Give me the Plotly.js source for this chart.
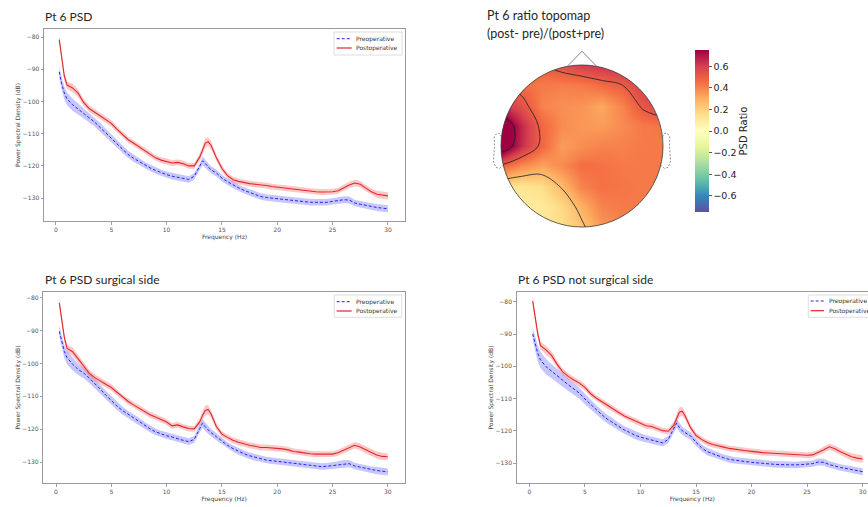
<!DOCTYPE html>
<html><head><meta charset="utf-8">
<script src="https://cdn.plot.ly/plotly-3.0.1.min.js"></script>
<style>html,body{margin:0;padding:0;background:#fff;}#chart{width:868px;height:507px;}</style>
</head><body><div id="chart"></div>
<script>
// ---------------- data ----------------
const freqHz = [0.3,0.5,0.75,1,1.5,2,2.5,3,3.5,4,4.5,5,5.5,6,6.5,7,7.5,8,8.5,9,9.5,10,10.5,11,11.5,12,12.5,13,13.25,13.5,13.75,14,14.5,15,15.5,16,16.5,17,17.5,18,18.5,19,19.5,20,20.5,21,21.5,22,22.5,23,23.5,24,24.5,25,25.5,26,26.5,27,27.5,28,28.5,29,29.5,30];

// Pt 6 PSD (all channels)
const allPre = [-90.8,-94.3,-97.3,-99.2,-101,-102.3,-103.6,-105,-106.4,-108.1,
 -109.8,-111.6,-113.3,-114.8,-116.4,-117.6,-118.6,-119.7,-120.6,-121.4,
 -122.1,-122.7,-123.2,-123.5,-123.8,-124.2,-123.2,-120.3,-118.4,-119.3,
 -120.4,-121.2,-122.2,-123.8,-124.9,-125.9,-126.8,-127.6,-128.2,-129,
 -129.5,-129.8,-130,-130.2,-130.4,-130.6,-130.8,-131,-131.1,-131.3,
 -131.3,-131.3,-131.3,-131,-130.7,-130.5,-130.6,-131.5,-131.9,-132.3,
 -132.6,-132.9,-133.1,-133.3];
const allPost = [-80.8,-86,-92,-94.9,-95.8,-97.4,-100.3,-102.2,-103.4,-104.4,
 -105.6,-106.8,-108.6,-110.3,-111.8,-112.9,-114,-115.1,-116.3,-117.5,
 -118.2,-118.7,-119.1,-118.9,-119.3,-120,-120,-117.2,-114.8,-112.9,
 -112.5,-113.5,-117.5,-120.8,-123,-124.3,-124.8,-125.2,-125.5,-125.7,
 -125.8,-126.1,-126.4,-126.6,-126.8,-127,-127.3,-127.6,-127.7,-127.9,
 -128,-128.1,-128.1,-128,-127.7,-126.8,-125.9,-125.3,-125.7,-126.9,
 -128,-128.8,-129.1,-129.3];

// Pt 6 PSD surgical side
const surgPre = [-90.2,-93.3,-96.3,-98.2,-100.2,-101.8,-102.9,-104.4,-106,-107.8,
 -109.6,-111.3,-112.9,-114.3,-115.5,-116.5,-117.6,-118.8,-119.9,-120.8,
 -121.5,-122,-122.4,-123,-123.4,-123.8,-123.1,-119.8,-118.2,-119.3,
 -120.3,-121,-122.3,-123.6,-124.9,-125.9,-126.8,-127.5,-128.1,-128.6,
 -129,-129.4,-129.6,-129.8,-130,-130.3,-130.6,-130.7,-130.9,-131.1,
 -131.3,-131.4,-131.3,-131.1,-130.8,-130.5,-130.5,-131.2,-131.6,-132,
 -132.4,-132.6,-132.8,-133];
const surgPost = [-81.5,-86,-92,-95.4,-96.4,-98.6,-100.9,-102.9,-104.3,-105.4,
 -106.3,-107.3,-108.8,-110.3,-111.5,-112.6,-113.6,-114.6,-115.6,-116.3,
 -117,-117.8,-119,-118.7,-119.3,-119.8,-119.9,-117.8,-115.8,-114.3,
 -114,-115.2,-119.2,-121.5,-122.5,-123.4,-124,-124.5,-124.9,-125.2,
 -125.6,-125.6,-125.7,-125.9,-126,-126.3,-126.8,-127,-127.3,-127.5,
 -127.6,-127.6,-127.6,-127.6,-127.2,-126.4,-125.6,-124.9,-125.4,-126.2,
 -127.1,-127.9,-128.3,-128.4];

// Pt 6 PSD not surgical side
const nonSurgPre = [-90,-93,-95.9,-98,-100.1,-101.5,-102.8,-104.3,-105.7,-107.1,
 -108.3,-110.1,-111.8,-113.4,-114.9,-116.3,-117.4,-118.6,-119.6,-120.4,
 -121.3,-121.9,-122.4,-122.9,-123.3,-123.7,-122.6,-119.5,-117.6,-118.9,
 -119.9,-120.5,-121.5,-123.5,-125.2,-126.4,-127.1,-127.7,-128.3,-128.8,
 -129.1,-129.3,-129.5,-129.7,-129.9,-130.1,-130.2,-130.3,-130.4,-130.5,
 -130.5,-130.5,-130.4,-130.3,-130.1,-129.6,-129.7,-130.4,-130.9,-131.3,
 -131.6,-131.9,-132.3,-132.6];
const nonSurgPost = [-79.8,-84,-89.8,-93.6,-94.9,-96.6,-99.4,-101.7,-103.1,-104.2,
 -105.2,-106.5,-108.4,-109.8,-110.9,-112.2,-113.2,-114.3,-115.3,-116.1,
 -116.9,-117.7,-118.4,-118.6,-119.2,-119.9,-120.1,-118.2,-116.2,-114.2,
 -113.9,-115.2,-118.9,-121.4,-122.6,-123.6,-124.2,-124.7,-125,-125.4,
 -125.7,-125.9,-126.1,-126.3,-126.6,-126.7,-126.8,-126.9,-127,-127.2,
 -127.3,-127.5,-127.6,-127.5,-127.4,-126.7,-125.8,-124.9,-125.5,-126.4,
 -127.3,-128,-128.4,-128.7];

// spread (half-width of shaded band, dB)
const preSd = [1.6,1.8,2.0,2.0,1.9,1.7,1.6,1.5,1.4,1.4,
 1.3,1.3,1.2,1.2,1.1,1.1,1.1,1.0,1.0,1.0,
 1.0,1.0,1.0,1.0,1.0,1.0,1.0,1.1,1.3,1.3,
 1.2,1.1,1.1,1.0,1.0,1.0,1.0,1.0,1.0,1.0,
 1.0,1.0,1.0,1.0,1.0,1.0,1.0,1.0,1.0,1.0,
 1.0,1.0,1.0,1.0,1.0,1.1,1.1,1.0,1.0,1.0,
 1.0,1.1,1.1,1.1];
const postSd = [1.5,1.4,1.3,1.2,1.3,1.2,1.1,1.0,1.0,1.0,
 1.0,1.0,0.9,0.9,0.9,0.9,0.9,0.9,0.9,0.9,
 0.9,0.9,0.9,0.9,0.9,0.9,0.9,1.1,1.4,1.5,
 1.4,1.2,1.0,0.9,0.9,0.9,0.9,0.9,0.9,0.9,
 0.9,0.9,0.9,0.9,0.9,0.9,0.9,0.9,0.9,0.9,
 0.9,0.9,0.9,0.9,0.9,0.9,1.0,1.0,1.0,1.0,
 1.0,1.1,1.1,1.1];
const nonSurgPreSd = [2.0,2.3,2.5,2.5,2.4,2.2,2.1,2.0,1.9,1.8,
 1.7,1.6,1.5,1.4,1.4,1.3,1.3,1.2,1.2,1.2,
 1.2,1.2,1.1,1.1,1.1,1.1,1.1,1.2,1.4,1.4,
 1.3,1.2,1.2,1.1,1.1,1.1,1.0,1.0,1.0,1.0,
 1.0,1.0,1.0,1.0,1.0,1.0,1.0,1.0,1.0,1.0,
 1.0,1.0,1.0,1.0,1.0,1.1,1.1,1.0,1.0,1.0,
 1.0,1.1,1.1,1.1];

const freqTicks = [0,5,10,15,20,25,30];
const psdTicks = [-130,-120,-110,-100,-90,-80];
const seriesNames = ['Preoperative','Postoperative'];
const panelTitles = ['Pt 6 PSD','Pt 6 PSD surgical side','Pt 6 PSD not surgical side'];
const xTitleText = 'Frequency (Hz)';
const yTitleText = 'Power Spectral Density (dB)';

// topomap: ratio (post-pre)/(post+pre) sampled on a grid (head radius = 1)
const topoX = [-1,-0.75,-0.5,-0.25,0,0.25,0.5,0.75,1];
const topoY = [-1,-0.75,-0.5,-0.25,0,0.25,0.5,0.75,1];
const topoRatio = [
 [0.10,0.10,0.12,0.15,0.23,0.35,0.40,0.42,0.42],
 [0.10,0.10,0.10,0.17,0.29,0.40,0.42,0.42,0.42],
 [0.14,0.12,0.15,0.26,0.40,0.44,0.43,0.42,0.42],
 [0.48,0.38,0.32,0.38,0.45,0.44,0.42,0.42,0.42],
 [0.88,0.65,0.47,0.34,0.37,0.40,0.40,0.42,0.42],
 [0.90,0.66,0.47,0.38,0.35,0.34,0.38,0.42,0.43],
 [0.62,0.55,0.40,0.37,0.36,0.31,0.40,0.52,0.60],
 [0.50,0.45,0.42,0.41,0.42,0.46,0.50,0.60,0.62],
 [0.50,0.48,0.50,0.55,0.60,0.63,0.65,0.66,0.66]];
const cbTicks = [-0.6,-0.4,-0.2,0,0.2,0.4,0.6];
const topoTitle = ['Pt 6 ratio topomap','(post- pre)/(post+pre)'];
const cbTitle = 'PSD Ratio';

// ---------------- layout helpers ----------------
const W = 868, H = 507;
const fx = p => p / W;
const fy = p => 1 - p / H;
const FONT = 'DejaVu Sans';
const TITLEFONT = 'Lato';
const PRE_COLOR = '#2323f0', POST_COLOR = '#e3262b';
const PRE_FILL = 'rgba(40,40,255,0.26)', POST_FILL = 'rgba(245,40,40,0.26)';

const panels = [
 {xa:'x', ya:'y', pre:allPre, post:allPost, preS:preSd, postS:postSd,
  xdom:[fx(44), fx(405)], ydom:[fy(221), fy(29)], xr:[-1.08,31.54], yr:[-137.1,-77.5], mirror:true,
  title:[43, 16.5],
  leg:{box:[334,32,402,55], rows:[38.7,48], line:[336.7,351.7], text:355}},
 {xa:'x2', ya:'y2', pre:surgPre, post:surgPost, preS:preSd, postS:postSd,
  xdom:[fx(43.3), fx(405)], ydom:[fy(483), fy(292)], xr:[-1.15,31.56], yr:[-136.4,-78.2], mirror:true,
  title:[43, 279],
  leg:{box:[334.3,295,401.7,317.3], rows:[301.7,311], line:[336.7,351.7], text:355}},
 {xa:'x3', ya:'y3', pre:nonSurgPre, post:nonSurgPost, preS:nonSurgPreSd, postS:postSd,
  xdom:[fx(516.7), 1], ydom:[fy(483), fy(292)], xr:[-1.14,30.48], yr:[-136.1,-77.0], mirror:false,
  title:[515.7, 279],
  leg:{box:[808.3,295,900,317.3], rows:[301,310.7], line:[810.7,824], text:828.3}}
];

const traces = [];
const shapes = [];
const annotations = [];
const layout = {
 width:W, height:H, margin:{l:0,r:0,t:0,b:0,autoexpand:false},
 paper_bgcolor:'#ffffff', plot_bgcolor:'rgba(0,0,0,0)', showlegend:false,
 font:{family:FONT, color:'#444'}, hovermode:false
};

panels.forEach((p, k) => {
 const lo = (m, s) => m.map((v,i) => v - s[i]);
 const hi = (m, s) => m.map((v,i) => v + s[i]);
 const common = {x:freqHz, xaxis:p.xa, yaxis:p.ya, mode:'lines', hoverinfo:'skip', showlegend:false};
 traces.push(Object.assign({}, common, {y:lo(p.pre,p.preS), line:{width:0, color:PRE_FILL}}));
 traces.push(Object.assign({}, common, {y:hi(p.pre,p.preS), line:{width:0, color:PRE_FILL}, fill:'tonexty', fillcolor:PRE_FILL}));
 traces.push(Object.assign({}, common, {y:lo(p.post,p.postS), line:{width:0, color:POST_FILL}}));
 traces.push(Object.assign({}, common, {y:hi(p.post,p.postS), line:{width:0, color:POST_FILL}, fill:'tonexty', fillcolor:POST_FILL}));
 traces.push(Object.assign({}, common, {y:p.pre, name:seriesNames[0], line:{width:1, color:PRE_COLOR, dash:'3px,2px'}}));
 traces.push(Object.assign({}, common, {y:p.post, name:seriesNames[1], line:{width:1.1, color:POST_COLOR}}));

 const xk = p.xa === 'x' ? 'xaxis' : 'xaxis' + p.xa.slice(1);
 const yk = p.ya === 'y' ? 'yaxis' : 'yaxis' + p.ya.slice(1);
 layout[xk] = {domain:p.xdom, range:p.xr, anchor:p.ya, showline:true, mirror:true,
  linecolor:'#9a9a9a', linewidth:1, ticks:'outside', ticklen:2.5, tickwidth:0.8, tickcolor:'#8a8a8a',
  tickmode:'array', tickvals:freqTicks, tickfont:{family:FONT, size:6, color:'#555'},
  showgrid:false, zeroline:false, fixedrange:true, automargin:false,
  title:{text:xTitleText, font:{family:FONT, size:6, color:'#444'}, standoff:1}};
 layout[yk] = {domain:p.ydom, range:p.yr, anchor:p.xa, showline:true, mirror:p.mirror,
  linecolor:'#9a9a9a', linewidth:1, ticks:'outside', ticklen:2.5, tickwidth:0.8, tickcolor:'#8a8a8a',
  tickmode:'array', tickvals:psdTicks, tickfont:{family:FONT, size:6, color:'#555'},
  showgrid:false, zeroline:false, fixedrange:true, automargin:false,
  title:{text:yTitleText, font:{family:FONT, size:6, color:'#444'}, standoff:1}};

 annotations.push({xref:'paper', yref:'paper', x:fx(p.title[0]), y:fy(p.title[1]), xanchor:'left', yanchor:'middle',
  text:panelTitles[k], showarrow:false, font:{family:TITLEFONT, size:12, color:'#262626'}});

 // legend box
 const L = p.leg;
 shapes.push({type:'rect', xref:'paper', yref:'paper', x0:fx(L.box[0]), x1:fx(L.box[2]), y0:fy(L.box[3]), y1:fy(L.box[1]),
  line:{color:'#d6d6d6', width:0.8}, fillcolor:'rgba(255,255,255,0.85)', layer:'above'});
 shapes.push({type:'line', xref:'paper', yref:'paper', x0:fx(L.line[0]), x1:fx(L.line[1]), y0:fy(L.rows[0]), y1:fy(L.rows[0]),
  line:{color:PRE_COLOR, width:1, dash:'3px,2px'}, layer:'above'});
 shapes.push({type:'line', xref:'paper', yref:'paper', x0:fx(L.line[0]), x1:fx(L.line[1]), y0:fy(L.rows[1]), y1:fy(L.rows[1]),
  line:{color:POST_COLOR, width:1.2}, layer:'above'});
 seriesNames.forEach((n, j) => annotations.push({xref:'paper', yref:'paper', x:fx(L.text), y:fy(L.rows[j]),
  xanchor:'left', yanchor:'middle', text:n, showarrow:false, borderpad:0, font:{family:FONT, size:6, color:'#333'}}));
});

// ---------------- topomap ----------------
const spectralR = [[0,'#5e4fa2'],[0.1,'#3288bd'],[0.2,'#66c2a5'],[0.3,'#abdda4'],[0.4,'#e6f598'],
 [0.5,'#ffffbf'],[0.6,'#fee08b'],[0.7,'#fdae61'],[0.8,'#f46d43'],[0.9,'#d53e4f'],[1,'#9e0142']];

traces.push({type:'heatmap', x:topoX, y:topoY, z:topoRatio, xaxis:'x4', yaxis:'y4', zsmooth:'best',
 colorscale:spectralR, zmin:-0.75, zmax:0.75, hoverinfo:'skip',
 colorbar:{x:fx(695), xanchor:'left', y:fy(131), yanchor:'middle', len:162, lenmode:'pixels',
  thickness:14, thicknessmode:'pixels', xpad:0, ypad:0, outlinewidth:0,
  ticks:'outside', ticklen:3, tickwidth:0.8, tickcolor:'#333', tickmode:'array', tickvals:cbTicks,
  tickformat:'.1f', tickfont:{family:FONT, size:9.5, color:'#222'},
  title:{text:cbTitle, side:'right', font:{family:FONT, size:10, color:'#222'}}}});
traces.push({type:'contour', x:topoX, y:topoY, z:topoRatio, xaxis:'x4', yaxis:'y4', showscale:false,
 autocontour:false, contours:{coloring:'none', start:0.25, end:0.75, size:0.25, showlines:true},
 line:{color:'#1e1e1e', width:0.8, smoothing:1}, hoverinfo:'skip'});

layout.xaxis4 = {domain:[fx(476.7), fx(687.3)], range:[-1.3,1.3], anchor:'y4', visible:false, fixedrange:true};
layout.yaxis4 = {domain:[fy(239.15), fy(44.75)], range:[-1.15,1.25], anchor:'x4', visible:false, fixedrange:true};

// white mask outside head circle
const k4 = 0.5523;
shapes.push({type:'path', xref:'x4', yref:'y4', layer:'above', fillrule:'evenodd', fillcolor:'#ffffff', line:{width:0},
 path:`M-1.8,-1.8 H1.8 V1.8 H-1.8 Z M1,0 C1,${k4} ${k4},1 0,1 C-${k4},1 -1,${k4} -1,0 C-1,-${k4} -${k4},-1 0,-1 C${k4},-1 1,-${k4} 1,0 Z`});
shapes.push({type:'circle', xref:'x4', yref:'y4', x0:-1, x1:1, y0:-1, y1:1, layer:'above', line:{color:'#3a3a3a', width:0.8}});
shapes.push({type:'path', xref:'x4', yref:'y4', layer:'above', path:'M-0.18,0.984 L0,1.17 L0.18,0.984',
 line:{color:'#666', width:0.8}});
const earShape = [[0.994,0.111],[1.02,0.155],[1.036,0.157],[1.06,0.149],[1.084,0.111],[1.08,-0.011],[1.094,-0.186],[1.064,-0.263],[1.02,-0.277],[0.978,-0.240]];
[-1, 1].forEach(sgn => {
 shapes.push({type:'path', xref:'x4', yref:'y4', layer:'above',
  path:'M' + earShape.map(q => (sgn*q[0]) + ',' + q[1]).join(' L'),
  line:{color:'#777', width:0.8, dash:'2px,1.5px'}});
});

annotations.push({xref:'paper', yref:'paper', x:fx(485), y:fy(15.3), xanchor:'left', yanchor:'middle',
 text:topoTitle[0], showarrow:false, font:{family:TITLEFONT, size:12.5, color:'#262626'}});
annotations.push({xref:'paper', yref:'paper', x:fx(485), y:fy(33.3), xanchor:'left', yanchor:'middle',
 text:topoTitle[1], showarrow:false, font:{family:TITLEFONT, size:12.5, color:'#262626'}});

layout.shapes = shapes;
layout.annotations = annotations;

Plotly.newPlot('chart', traces, layout, {staticPlot:true, displayModeBar:false});
</script>
</body></html>
